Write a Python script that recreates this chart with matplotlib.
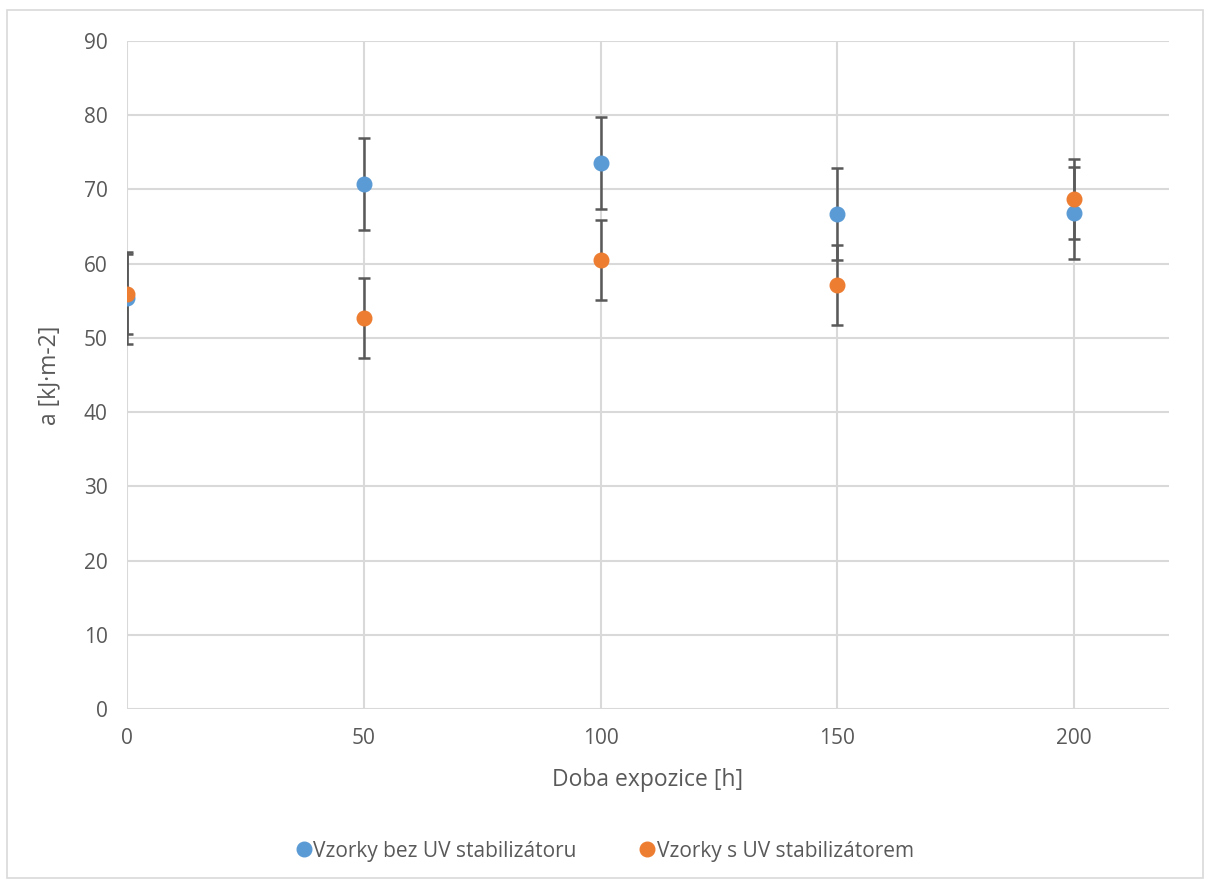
import matplotlib.pyplot as plt
from matplotlib.patches import Rectangle

plt.rcParams['font.family'] = ['Open Sans', 'DejaVu Sans']

hours = [0, 50, 100, 150, 200]
bez_uv = [55.4, 70.7, 73.6, 66.7, 66.8]
bez_uv_err = [6.2, 6.2, 6.2, 6.2, 6.2]
s_uv = [55.9, 52.7, 60.5, 57.1, 68.7]
s_uv_err = [5.4, 5.4, 5.45, 5.4, 5.4]

text_color = "#595959"
grid_color = "#d9d9d9"

fig = plt.figure(figsize=(12.09, 8.82), dpi=100)
ax = fig.add_axes([127 / 1209, 1 - 709 / 882, (1169 - 127) / 1209, (709 - 41) / 882])

fig.patches.append(Rectangle((7 / 1209, 1 - 878 / 882), 1196 / 1209, 868 / 882,
                             transform=fig.transFigure, fill=False,
                             edgecolor=grid_color, linewidth=1.2))

ax.errorbar(hours, bez_uv, yerr=bez_uv_err, fmt="o", color="#5b9bd5", markersize=10.5,
            ecolor="#595959", elinewidth=1.8, capsize=4.5, capthick=1.8,
            label="Vzorky bez UV stabilizátoru", zorder=3)
ax.errorbar(hours, s_uv, yerr=s_uv_err, fmt="o", color="#ed7d31", markersize=10.5,
            ecolor="#595959", elinewidth=1.8, capsize=4.5, capthick=1.8,
            label="Vzorky s UV stabilizátorem", zorder=3)

ax.set_xlim(0, 220)
ax.set_ylim(0, 90)
ax.set_xticks([0, 50, 100, 150, 200])
ax.set_yticks(range(0, 91, 10))
ax.grid(True, color=grid_color, linewidth=1.5)
ax.set_axisbelow(True)
for s in ax.spines.values():
    s.set_visible(False)
ax.tick_params(length=0, labelsize=15, colors=text_color, pad=14)

ax.set_xlabel("Doba expozice [h]", fontsize=16.5, color=text_color, labelpad=13)
ax.set_ylabel("a [kJ·m-2]", fontsize=16.5, color=text_color, labelpad=16)

handles, labels = ax.get_legend_handles_labels()
handles = [h[0] for h in handles]
fig.legend(handles, labels, loc="center", bbox_to_anchor=(0.5, 1 - 851 / 882), ncol=2,
           frameon=False, fontsize=15, labelcolor=text_color, handletextpad=0.05,
           columnspacing=3.0, handlelength=0.8)

fig.savefig("out.png", dpi=100)
